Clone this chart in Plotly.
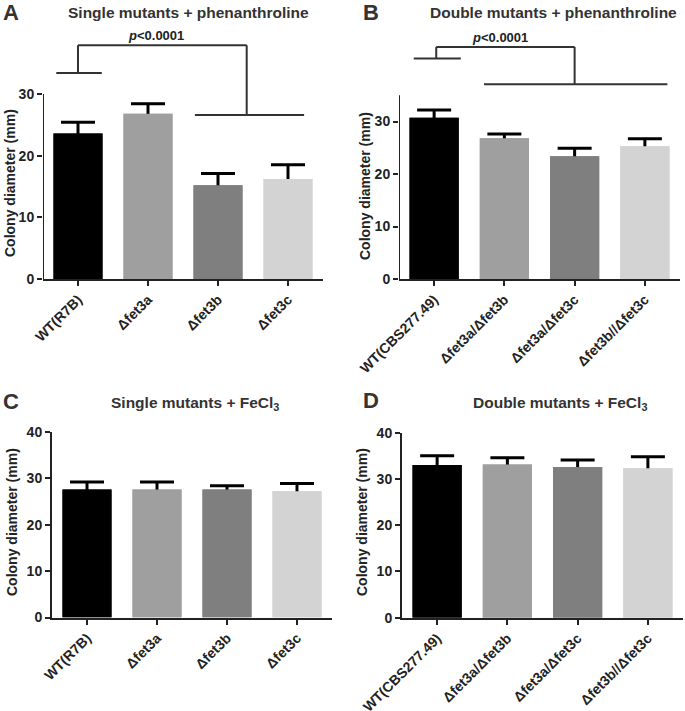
import plotly.graph_objects as go

# ---------------- data ----------------
single_labels = ["WT(R7B)", "Δfet3a", "Δfet3b", "Δfet3c"]
double_labels = ["WT(CBS277.49)", "Δfet3a/Δfet3b", "Δfet3a/Δfet3c", "Δfet3b//Δfet3c"]

a_mean = [23.6, 26.8, 15.2, 16.2]
a_err = [1.8, 1.6, 1.9, 2.3]
b_mean = [30.7, 26.8, 23.4, 25.3]
b_err = [1.5, 0.8, 1.5, 1.4]
c_mean = [27.6, 27.6, 27.6, 27.2]
c_err = [1.6, 1.6, 0.8, 1.7]
d_mean = [33.0, 33.1, 32.6, 32.3]
d_err = [2.0, 1.5, 1.5, 2.5]

bar_colors = ["#000000", "#9f9f9f", "#7f7f7f", "#d3d3d3"]
W, H = 685, 711
INK = "#222222"
FONT = "Liberation Sans, Arial, sans-serif"

fig = go.Figure()

def px_x(a, b):
    return [a / W, b / W]

def px_y(bottom, top):
    return [1 - bottom / H, 1 - top / H]

panels = [
    (single_labels, a_mean, a_err, "x", "y", px_x(43, 323), px_y(279, 279 - 40 * 6.17), [0, 40]),
    (double_labels, b_mean, b_err, "x2", "y2", px_x(399, 680), px_y(279, 279 - 48 * 5.25), [0, 48]),
    (single_labels, c_mean, c_err, "x3", "y3", px_x(52, 332), px_y(617.5, 432), [0, 40]),
    (double_labels, d_mean, d_err, "x4", "y4", px_x(402, 683), px_y(617.7, 432.7), [0, 40]),
]

for i, (labels, mean, err, xa, ya, xd, yd, yr) in enumerate(panels):
    fig.add_trace(go.Bar(
        x=labels, y=mean, xaxis=xa, yaxis=ya, width=0.7,
        marker=dict(color=bar_colors, line=dict(width=0)),
        error_y=dict(type="data", array=err, symmetric=True, color="#000000",
                     thickness=3, width=17),
        showlegend=False, hoverinfo="skip"))
    fig.add_trace(go.Bar(
        x=labels, y=mean, xaxis=xa, yaxis=ya, width=0.7,
        marker=dict(color=bar_colors, line=dict(width=0)),
        showlegend=False))
    n = "" if i == 0 else str(i + 1)
    fig.layout["xaxis" + n] = dict(
        domain=xd, anchor=ya, range=[-0.5, 3.5], type="category", automargin=False,
        showline=True, linecolor=INK, linewidth=2, ticks="outside",
        ticklen=5, tickwidth=2, tickcolor=INK, tickangle=-45,
        tickfont=dict(family=FONT, size=14, color=INK, weight="bold"),
        showgrid=False, zeroline=False, fixedrange=True)
    fig.layout["yaxis" + n] = dict(
        domain=yd, anchor=xa, range=yr, automargin=False,
        tickvals=[0, 10, 20, 30] if i < 2 else [0, 10, 20, 30, 40],
        showline=(i >= 2), linecolor=INK, linewidth=2, ticks="outside",
        ticklen=5, tickwidth=2, tickcolor=INK,
        tickfont=dict(family=FONT, size=14, color=INK, weight="bold"),
        showgrid=False, zeroline=False, fixedrange=True)

fig.update_layout(barmode="overlay")

shapes = []
line = dict(color="#333333", width=2)
shapes.append(dict(type="line", xref="x", yref="y", x0=-0.5, x1=-0.5, y0=0, y1=30,
                   line=dict(color=INK, width=2)))
shapes.append(dict(type="line", xref="x2", yref="y2", x0=-0.5, x1=-0.5, y0=0, y1=35,
                   line=dict(color=INK, width=2)))

for (x0, y0, x1, y1) in [(-0.31, 33.4, 0.34, 33.4), (0.0, 33.4, 0.0, 37.9),
                         (0.0, 37.9, 2.41, 37.9), (2.41, 37.9, 2.41, 26.6),
                         (1.67, 26.6, 3.23, 26.6)]:
    shapes.append(dict(type="line", xref="x", yref="y", x0=x0, y0=y0, x1=x1, y1=y1, line=line))
for (x0, y0, x1, y1) in [(-0.29, 42.0, 0.38, 42.0), (0.03, 42.0, 0.03, 44.2),
                         (0.03, 44.2, 2.0, 44.2), (2.0, 44.2, 2.0, 37.1),
                         (0.71, 37.1, 3.32, 37.1)]:
    shapes.append(dict(type="line", xref="x2", yref="y2", x0=x0, y0=y0, x1=x1, y1=y1, line=line))
fig.update_layout(shapes=shapes)

ann = []
TITLE = "#333333"
def title(text, xc, yc):
    ann.append(dict(text=text, x=xc / W, y=1 - yc / H, xref="paper", yref="paper",
                    showarrow=False, xanchor="center", yanchor="middle",
                    font=dict(family=FONT, size=15.5, color=TITLE, weight="bold")))

def letter(text, xl, yc):
    ann.append(dict(text=text, x=xl / W, y=1 - yc / H, xref="paper", yref="paper",
                    showarrow=False, xanchor="left", yanchor="middle",
                    font=dict(family=FONT, size=22, color=TITLE, weight="bold")))

def ytitle(xc, yc):
    ann.append(dict(text="Colony diameter (mm)", x=xc / W, y=1 - yc / H, xref="paper",
                    yref="paper", showarrow=False, textangle=-90, xanchor="center",
                    yanchor="middle",
                    font=dict(family=FONT, size=14, color=INK, weight="bold")))

title("Single mutants + phenanthroline", 188, 13)
title("Double mutants + phenanthroline", 553, 13)
title("Single mutants + FeCl<sub>3</sub>", 195, 403)
title("Double mutants + FeCl<sub>3</sub>", 560, 403)
letter("A", 1, 13)
letter("B", 361, 12)
letter("C", 1, 401)
letter("D", 361, 400)
ytitle(10, 183)
ytitle(365, 186)
ytitle(12, 522)
ytitle(362, 522)

ann.append(dict(text="<i>p</i>&lt;0.0001", x=1.11, y=37.9, xref="x", yref="y",
                showarrow=False, xanchor="center", yanchor="bottom",
                font=dict(family=FONT, size=13, color=INK, weight="bold")))
ann.append(dict(text="<i>p</i>&lt;0.0001", x=0.94, y=44.2, xref="x2", yref="y2",
                showarrow=False, xanchor="center", yanchor="bottom",
                font=dict(family=FONT, size=13, color=INK, weight="bold")))
fig.update_layout(annotations=ann)

fig.update_layout(width=W, height=H, margin=dict(l=0, r=0, t=0, b=0, autoexpand=False),
                  paper_bgcolor="white", plot_bgcolor="white",
                  font=dict(family=FONT, color=INK))

fig.write_html("out.html", config={"displayModeBar": False},
               post_script="document.body.style.margin='0';document.body.style.overflow='hidden';")
